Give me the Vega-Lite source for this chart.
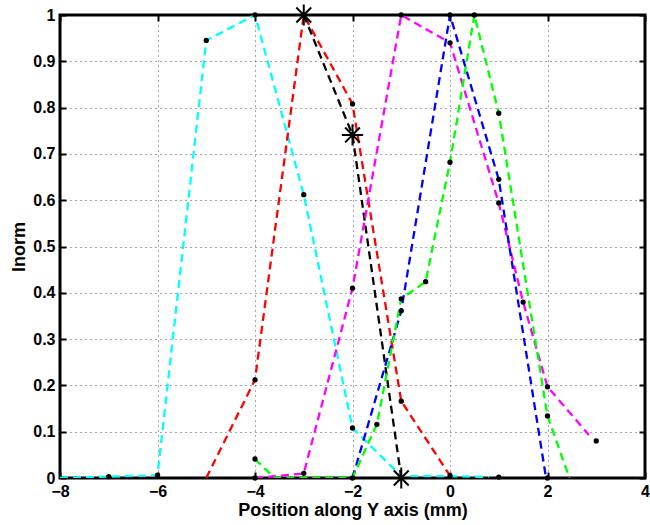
{
  "$schema": "https://vega.github.io/schema/vega-lite/v6.json",
  "width": 585,
  "height": 463,
  "autosize": "none",
  "padding": {"left": 60, "top": 15, "right": 5, "bottom": 47},
  "background": "white",
  "config": {
    "view": {"stroke": "black", "strokeWidth": 3},
    "axis": {
      "labelFont": "Liberation Sans", "labelFontWeight": "bold", "labelFontSize": 16, "labelColor": "black",
      "titleFont": "Liberation Sans", "titleFontWeight": "bold", "titleFontSize": 18, "titleColor": "black",
      "domainColor": "black", "domainWidth": 3, "tickColor": "black", "tickWidth": 2, "tickSize": -6,
      "gridColor": "black", "gridDash": [1, 4], "gridOpacity": 0.7, "gridWidth": 1
    }
  },
  "datasets": {
    "lines": [
      {"s": "cyan", "x": -8, "y": 0.0}, {"s": "cyan", "x": -7, "y": 0.003}, {"s": "cyan", "x": -6, "y": 0.006},
      {"s": "cyan", "x": -5, "y": 0.945}, {"s": "cyan", "x": -4, "y": 1.0}, {"s": "cyan", "x": -3, "y": 0.612},
      {"s": "cyan", "x": -2, "y": 0.108}, {"s": "cyan", "x": -1, "y": 0.004}, {"s": "cyan", "x": 0, "y": 0.004},
      {"s": "cyan", "x": 0.8, "y": 0.002},
      {"s": "red", "x": -5, "y": 0.0}, {"s": "red", "x": -4, "y": 0.212}, {"s": "red", "x": -3, "y": 1.0},
      {"s": "red", "x": -2, "y": 0.808}, {"s": "red", "x": -1, "y": 0.166}, {"s": "red", "x": 0, "y": 0.005},
      {"s": "black", "x": -3, "y": 1.0}, {"s": "black", "x": -2, "y": 0.741}, {"s": "black", "x": -1, "y": 0.0},
      {"s": "magenta", "x": -4, "y": 0.0}, {"s": "magenta", "x": -3, "y": 0.01}, {"s": "magenta", "x": -2, "y": 0.41},
      {"s": "magenta", "x": -1, "y": 1.0}, {"s": "magenta", "x": 0, "y": 0.94}, {"s": "magenta", "x": 1, "y": 0.594},
      {"s": "magenta", "x": 1.5, "y": 0.38}, {"s": "magenta", "x": 2, "y": 0.197}, {"s": "magenta", "x": 2.85, "y": 0.093},
      {"s": "blue", "x": -2, "y": 0.0}, {"s": "blue", "x": -1, "y": 0.361}, {"s": "blue", "x": 0, "y": 1.0},
      {"s": "blue", "x": 1, "y": 0.645}, {"s": "blue", "x": 1.97, "y": 0.0},
      {"s": "green", "x": -4, "y": 0.041}, {"s": "green", "x": -3.6, "y": 0.0}, {"s": "green", "x": -2, "y": 0.0},
      {"s": "green", "x": -1.5, "y": 0.116}, {"s": "green", "x": -1, "y": 0.387}, {"s": "green", "x": -0.5, "y": 0.424},
      {"s": "green", "x": 0, "y": 0.682}, {"s": "green", "x": 0.5, "y": 1.0}, {"s": "green", "x": 1, "y": 0.788},
      {"s": "green", "x": 2, "y": 0.134}, {"s": "green", "x": 2.45, "y": 0.0}
    ],
    "dots": [
      {"x": -7, "y": 0.003}, {"x": -6, "y": 0.006}, {"x": -5, "y": 0.945}, {"x": -4, "y": 1.0}, {"x": -3, "y": 0.612},
      {"x": -2, "y": 0.108}, {"x": -4, "y": 0.212}, {"x": -2, "y": 0.808}, {"x": -1, "y": 0.166}, {"x": 0, "y": 0.005},
      {"x": -4, "y": 0.041}, {"x": -4, "y": 0.0}, {"x": -3, "y": 0.01}, {"x": -2, "y": 0.41}, {"x": -1, "y": 1.0},
      {"x": 0, "y": 0.94}, {"x": 1, "y": 0.594}, {"x": 1.5, "y": 0.38}, {"x": 2, "y": 0.197}, {"x": 3, "y": 0.08},
      {"x": -1, "y": 0.361}, {"x": 0, "y": 1.0}, {"x": 1, "y": 0.645}, {"x": -2, "y": 0.0},
      {"x": -1.5, "y": 0.116}, {"x": -1, "y": 0.387}, {"x": -0.5, "y": 0.424}, {"x": 0, "y": 0.682},
      {"x": 0.5, "y": 1.0}, {"x": 1, "y": 0.788}, {"x": 2, "y": 0.134}, {"x": 1, "y": 0.002}, {"x": 2, "y": 0.0}
    ]
  },
  "resolve": {"axis": {"x": "independent", "y": "independent"}},
  "layer": [
    {
      "data": {"name": "lines"},
      "mark": {"type": "line", "strokeWidth": 2.3, "strokeDash": [8, 5], "clip": true},
      "encoding": {
        "x": {"field": "x", "type": "quantitative", "scale": {"domain": [-8, 4], "nice": false, "zero": false},
              "axis": {"orient": "bottom", "title": "Position along Y axis (mm)", "values": [-8, -6, -4, -2, 0, 2, 4], "grid": true, "labelPadding": 11, "titlePadding": 2, "labelFlush": false, "domain": false}},
        "y": {"field": "y", "type": "quantitative", "scale": {"domain": [0, 1], "nice": false},
              "axis": {"orient": "left", "title": "Inorm", "values": [0, 0.1, 0.2, 0.3, 0.4, 0.5, 0.6, 0.7, 0.8, 0.9, 1], "format": ".1~f", "grid": true, "labelPadding": 11, "titlePadding": 4, "labelFlush": false, "domain": false}},
        "color": {"field": "s", "type": "nominal", "legend": null,
                  "scale": {"domain": ["cyan", "red", "black", "magenta", "blue", "green"], "range": ["#00FFFF", "#FF0000", "#000000", "#FF00FF", "#0000FF", "#00FF00"]}},
        "detail": {"field": "s"}
      }
    },
    {
      "data": {"name": "dots"},
      "mark": {"type": "point", "filled": true, "shape": "circle", "size": 28, "color": "black", "opacity": 1},
      "encoding": {
        "x": {"field": "x", "type": "quantitative", "scale": {"domain": [-8, 4], "nice": false, "zero": false},
              "axis": {"orient": "top", "labels": false, "title": null, "values": [-8, -6, -4, -2, 0, 2, 4], "grid": false, "domain": false}},
        "y": {"field": "y", "type": "quantitative", "scale": {"domain": [0, 1], "nice": false},
              "axis": {"orient": "right", "labels": false, "title": null, "values": [0, 0.1, 0.2, 0.3, 0.4, 0.5, 0.6, 0.7, 0.8, 0.9, 1], "grid": false, "domain": false}}
      }
    },
    {
      "data": {"name": "lines"},
      "transform": [{"filter": "datum.s === 'black'"}],
      "mark": {"type": "point", "shape": "M-1,0L1,0M0,-1L0,1M-0.7,-0.7L0.7,0.7M-0.7,0.7L0.7,-0.7", "size": 450, "stroke": "black", "strokeWidth": 2, "filled": false, "opacity": 1},
      "encoding": {
        "x": {"field": "x", "type": "quantitative", "axis": null},
        "y": {"field": "y", "type": "quantitative", "axis": null}
      }
    }
  ]
}
